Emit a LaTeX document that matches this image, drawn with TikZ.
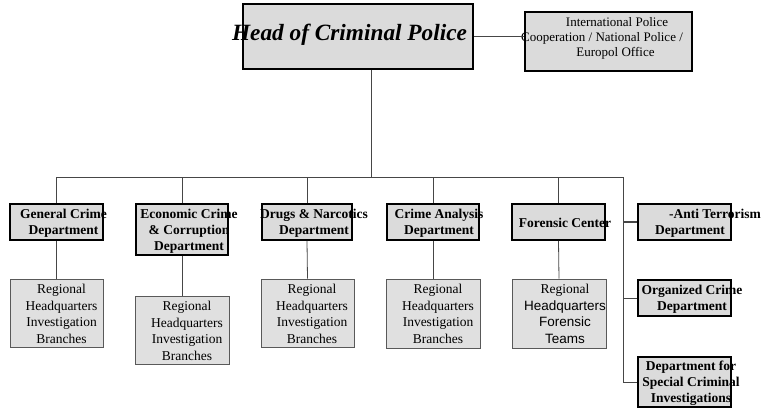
\documentclass[tikz,border=0pt]{standalone}
\usepackage{fontspec}
\setmainfont{Liberation Serif}
\newfontfamily\arialfont{Liberation Sans}
\usepackage{tikz}
\usetikzlibrary{calc}
\tikzset{
	dept/.style={
		draw=black,
		fill=black!14,
		line width=1.8pt,
		inner sep=0pt
	},
	unit/.style={
		draw=black!65,
		fill=black!12,
		line width=0.7pt,
		inner sep=0pt
	},
	deptlabel/.style={
		align=center,
		inner sep=0pt,
		font=\fontsize{13.5}{16}\selectfont\bfseries
	},
	unitlabel/.style={
		align=center,
		inner sep=0pt,
		font=\fontsize{13.5}{16.5}\selectfont
	}
}
\definecolor{linegray}{RGB}{70,70,70}

\begin{document}
\begin{tikzpicture}[x=1pt, y=-1pt]
	\tikzset{link/.style={draw=linegray, line width=0.8pt}}
	\useasboundingbox (0,0) rectangle (764,411);
	
	% top of the chart
	\node(head) at (358,36.5) [dept, line width=2.4pt, minimum width=230pt, minimum height=65pt] {};
	\node(head-l) at (349.5,35) [inner sep=0pt, font=\fontsize{23.3}{26}\selectfont\bfseries\itshape] {Head of Criminal Police};
	\node(intl) at (608.5,41.5) [dept, line width=1.5pt, minimum width=167pt, minimum height=59pt] {};
	\node(intl-l) at (602,38) [inner sep=0pt, align=center, font=\fontsize{13}{15}\selectfont] {\hspace*{30pt}International Police\\Cooperation / National Police /\\\hspace*{27pt}Europol Office};
	
	% departments
	\node(gen) at (56.5,222) [dept, minimum width=93pt, minimum height=36pt] {};
	\node(eco) at (182,229.5) [dept, minimum width=92pt, minimum height=51pt] {};
	\node(drg) at (307,222) [dept, minimum width=90pt, minimum height=36pt] {};
	\node(cra) at (433,222) [dept, minimum width=92pt, minimum height=36pt] {};
	\node(fsc) at (558.5,222) [dept, minimum width=93pt, minimum height=36pt] {};
	\node(anti) at (684.5,222) [dept, minimum width=93pt, minimum height=36pt] {};
	\node(org) at (684.5,298) [dept, minimum width=93pt, minimum height=36pt] {};
	\node(spec) at (684.5,382) [dept, minimum width=93pt, minimum height=50pt] {};
	
	\node(gen-l) at (63.5,223) [deptlabel] {General Crime\\Department};
	\node(eco-l) at (189,231) [deptlabel] {Economic Crime\\\& Corruption\\Department};
	\node(drg-l) at (314,223) [deptlabel] {Drugs \& Narcotics\\Department};
	\node(cra-l) at (439,223) [deptlabel] {Crime Analysis\\Department};
	\node(fsc-l) at (565,223) [deptlabel] {Forensic Center};
	\node(anti-l) at (690,223) [deptlabel] {\hspace*{50pt}-Anti Terrorism\\Department};
	\node(org-l) at (692,299) [deptlabel] {Organized Crime\\Department};
	\node(spec-l) at (691,383) [deptlabel] {Department for\\Special Criminal\\Investigations};
	
	% regional units
	\node(gen-u) at (56.5,313) [unit, minimum width=93pt, minimum height=68pt] {};
	\node(eco-u) at (182,330) [unit, minimum width=94pt, minimum height=68pt] {};
	\node(drg-u) at (307.5,313) [unit, minimum width=93pt, minimum height=68pt] {};
	\node(cra-u) at (433,313.5) [unit, minimum width=94pt, minimum height=69pt] {};
	\node(fsc-u) at (559,313.5) [unit, minimum width=94pt, minimum height=69pt] {};
	
	\node(gen-ul) at (61.5,314) [unitlabel] {Regional\\Headquarters\\Investigation\\Branches};
	\node(eco-ul) at (187,331) [unitlabel] {Regional\\Headquarters\\Investigation\\Branches};
	\node(drg-ul) at (312,314) [unitlabel] {Regional\\Headquarters\\Investigation\\Branches};
	\node(cra-ul) at (438,314) [unitlabel] {Regional\\Headquarters\\Investigation\\Branches};
	\node(fsc-ul) at (565,314) [unitlabel] {Regional\\{\arialfont Headquarters}\\{\arialfont Forensic}\\{\arialfont Teams}};
	
	% connectors
	\coordinate(hub) at (371,177);
	\coordinate(spine) at (623,177);
	\draw[link] (head.east) -- (head.east -| intl.west);
	\draw[link] (head.south -| hub) -- (hub);
	\draw[link] (gen.north) |- (spine) -- (spine |- spec.west) -- (spec.west);
	\foreach \d in {eco,drg,cra,fsc}
		\draw[link] (\d.north) -- (\d.north |- hub);
	\draw[link, line width=1.8pt] (spine |- anti.west) -- (anti.west);
	\draw[link] (spine |- org.west) -- (org.west);
	\foreach \d in {gen,eco,drg,cra,fsc}
		\draw[link] (\d.south) -- (\d-u.north);
\end{tikzpicture}
\end{document}
